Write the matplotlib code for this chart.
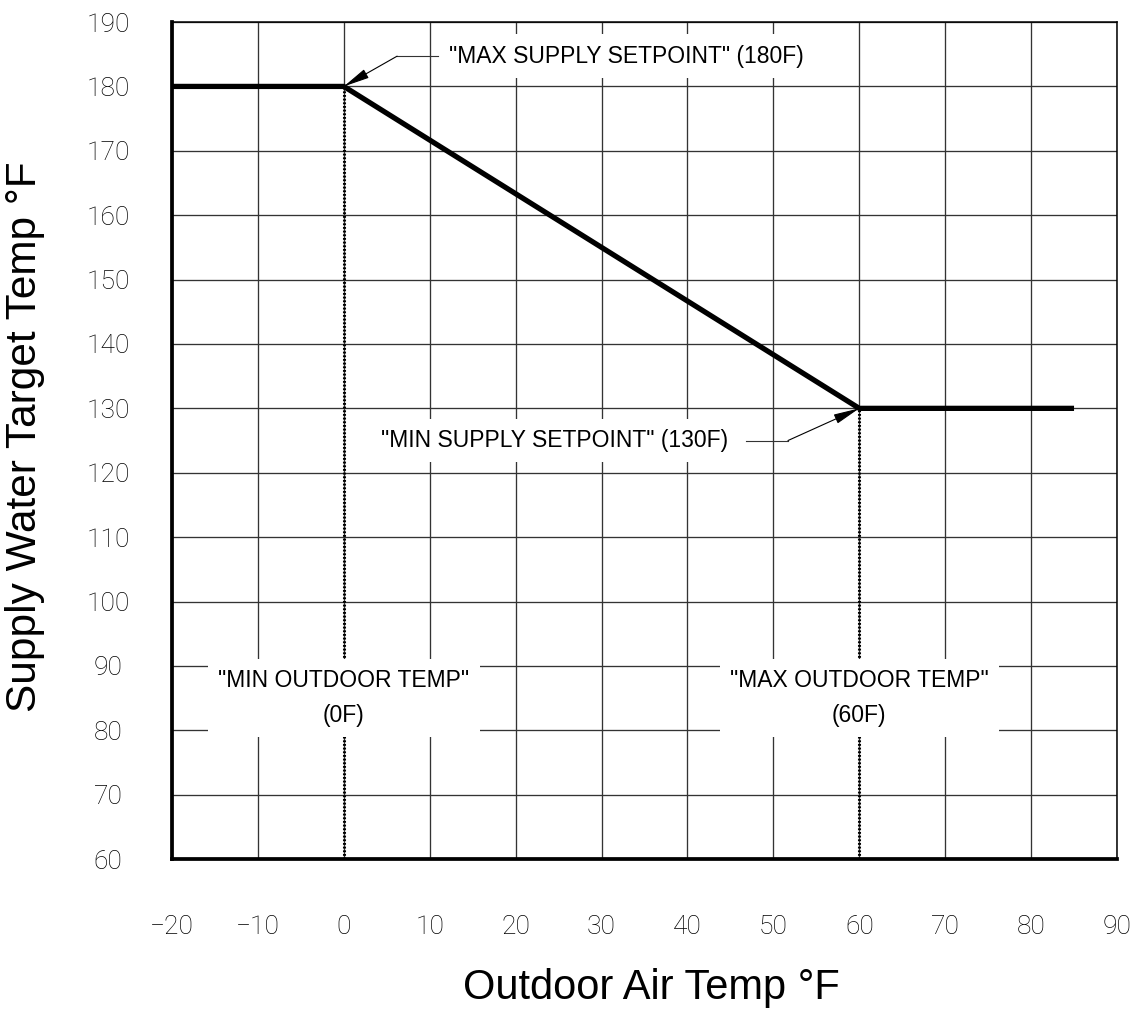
import matplotlib
matplotlib.use('Agg')
import matplotlib.pyplot as plt
from matplotlib import font_manager

# Reset curve: supply water target vs outdoor air temperature
outdoor_temp = [-20, 0, 60, 85]
supply_target = [180, 180, 130, 130]

min_outdoor = 0
max_outdoor = 60
max_supply = 180
min_supply = 130

x_ticks = list(range(-20, 91, 10))
y_ticks = list(range(60, 191, 10))

max_supply_label = '"MAX SUPPLY SETPOINT" (180F)'
min_supply_label = '"MIN SUPPLY SETPOINT" (130F)'
min_outdoor_label = '"MIN OUTDOOR TEMP"\n(0F)'
max_outdoor_label = '"MAX OUTDOOR TEMP"\n(60F)'


def has_font(name):
  try:
    font_manager.findfont(name, fallback_to_default=False)
    return True
  except ValueError:
    return False

# Narrow font for the callouts if there is one
if has_font('Liberation Sans Narrow'):
  note_font = dict(family='Liberation Sans Narrow', size=20)
else:
  note_font = dict(family='Liberation Sans', size=16.5)

tick_font = dict(family=['Roboto', 'DejaVu Sans'], size=19, weight='light')

fig = plt.figure(figsize=(11.37, 10.11), dpi=100)
ax = fig.add_axes([0.1513, 0.1503, 0.8311, 0.8279])

ax.set_xlim(x_ticks[0], x_ticks[-1])
ax.set_ylim(y_ticks[0], y_ticks[-1])
ax.set_xticks(x_ticks)
ax.set_yticks(y_ticks)

# Grid
ax.grid(True, color='#333333', linewidth=0.95, zorder=1)
ax.set_axisbelow(True)

# Frame
for side in ['top', 'right']:
  ax.spines[side].set_linewidth(1.1)
for side in ['left', 'bottom']:
  ax.spines[side].set_linewidth(2.7)
for s in ax.spines.values():
  s.set_color('black')
  s.set_zorder(6)

# Tick labels
ax.tick_params(axis='both', length=0)
ax.tick_params(axis='y', pad=46)
ax.tick_params(axis='x', pad=40)
for t in ax.get_yticklabels() + ax.get_xticklabels():
  t.set_fontfamily(tick_font['family'])
  t.set_fontsize(tick_font['size'])
  t.set_fontweight(tick_font['weight'])
  t.set_color('black')
for t in ax.get_yticklabels():
  t.set_ha('center')

# Dotted drops from the break points
ax.plot([min_outdoor, min_outdoor], [y_ticks[0], max_supply], color='black',
        linewidth=2.2, linestyle=(0, (0.6, 0.6)), zorder=2)
ax.plot([max_outdoor, max_outdoor], [y_ticks[0], min_supply], color='black',
        linewidth=2.2, linestyle=(0, (0.6, 0.6)), zorder=2)

# Reset curve
ax.plot(outdoor_temp, supply_target, color='black', linewidth=3.8,
        solid_capstyle='butt', zorder=5)

white_box = dict(boxstyle='square,pad=0.45', facecolor='white', edgecolor='none')
arrow = dict(arrowstyle='-|>,head_length=0.8,head_width=0.15', mutation_scale=20,
             color='black', linewidth=0.8, shrinkA=0, shrinkB=0)

# Max supply callout
ax.text(12.2, 184.7, max_supply_label, ha='left', va='center', zorder=3,
        bbox=white_box, **note_font)
ax.plot([6.2, 11.0], [184.7, 184.7], color='#333333', linewidth=0.8, zorder=4)
ax.annotate('', xy=(min_outdoor, max_supply), xytext=(6.2, 184.7), zorder=4,
            arrowprops=arrow)

# Min supply callout
ax.text(44.7, 125.0, min_supply_label, ha='right', va='center', zorder=3,
        bbox=white_box, **note_font)
ax.plot([46.8, 51.7], [125.0, 125.0], color='#333333', linewidth=0.8, zorder=4)
ax.annotate('', xy=(max_outdoor, min_supply), xytext=(51.7, 125.0), zorder=4,
            arrowprops=arrow)

# Outdoor temperature labels
out_box = dict(boxstyle='square,pad=0.45', facecolor='white', edgecolor='none')
ax.text(min_outdoor, 85, min_outdoor_label, ha='center', va='center',
        multialignment='center', linespacing=1.65, zorder=3, bbox=out_box, **note_font)
ax.text(max_outdoor, 85, max_outdoor_label, ha='center', va='center',
        multialignment='center', linespacing=1.65, zorder=3, bbox=out_box, **note_font)

# Axis titles
fig.text(0.5727, 12 / 1011, 'Outdoor Air Temp °F', ha='center', va='baseline',
         family='Liberation Sans', size=30)
fig.text(5 / 1137, 1 - 437 / 1011, 'Supply Water Target Temp °F', ha='left',
         va='center', rotation=90, family='Liberation Sans', size=30.5)

fig.savefig('out.png', dpi=100)
